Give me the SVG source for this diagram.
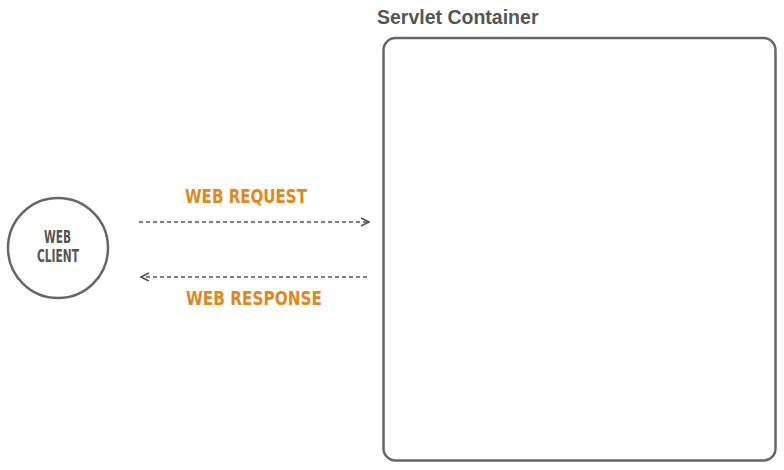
<svg xmlns="http://www.w3.org/2000/svg" width="784" height="470" viewBox="0 0 784 470">
<style>
.title{font-family:"Liberation Sans",Arial,sans-serif;font-weight:bold;font-size:19.5px;fill:#555}
.cond{font-family:"DejaVu Sans Condensed","Liberation Sans Narrow","Liberation Sans",sans-serif;font-stretch:condensed;font-weight:bold}
.lbl{font-size:19px;fill:#E0881C}
.node{font-size:18px;fill:#555}
.shape{fill:#fff;stroke:#666;stroke-width:2.5}
.conn{fill:none;stroke:#555;stroke-width:1.6;stroke-dasharray:4 3}
</style>
<defs>
<marker id="arr" viewBox="0 0 10 10" refX="9" refY="5" markerWidth="10" markerHeight="10" markerUnits="userSpaceOnUse" orient="auto">
<path d="M1,1 L9,5 L1,9" fill="none" stroke="#555" stroke-width="1.6"/>
</marker>
</defs>
<rect width="784" height="470" fill="#fff"/>
<g id="servlet-container">
<rect class="shape" x="383.5" y="38" width="392" height="422.5" rx="12"/>
<text class="title" x="377" y="24">Servlet Container</text>
</g>
<g id="web-client">
<circle class="shape" cx="58" cy="248" r="50" stroke-width="3"/>
<text class="cond node" x="44" y="243" textLength="27" lengthAdjust="spacingAndGlyphs">WEB</text>
<text class="cond node" x="37" y="262" textLength="42" lengthAdjust="spacingAndGlyphs">CLIENT</text>
</g>
<g id="connectors">
<line class="conn" x1="139" y1="222" x2="369" y2="222" marker-end="url(#arr)"/>
<line class="conn" x1="367" y1="277" x2="141" y2="277" marker-end="url(#arr)"/>
<text class="cond lbl" x="185" y="203" textLength="122" lengthAdjust="spacingAndGlyphs">WEB REQUEST</text>
<text class="cond lbl" x="186" y="305" textLength="136" lengthAdjust="spacingAndGlyphs">WEB RESPONSE</text>
</g>
</svg>
